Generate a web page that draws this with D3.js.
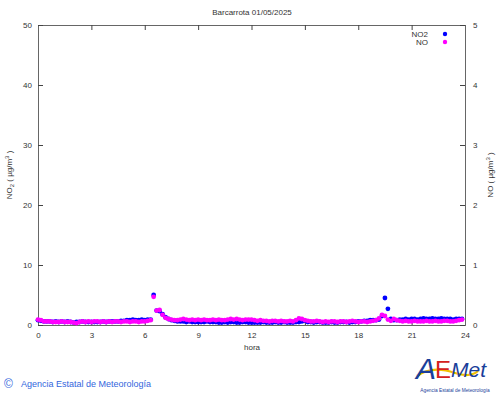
<!DOCTYPE html>
<html lang="es">
<head>
<meta charset="UTF-8">
<title>Barcarrota 01/05/2025</title>
<script src="https://d3js.org/d3.v7.min.js"></script>
<style>
    body { margin: 0; background: #fff; }
    svg { display: block; font-family: "Liberation Sans", Arial, sans-serif; }
    .axis text { font-size: 8px; fill: #333; }
</style>
</head>
<body>
<script>
// 10-minute readings, 00:00 .. 23:50
const hours = d3.range(0, 24, 1 / 6);
const no2 = [
    0.8,0.7,0.6,0.6,0.6,0.5,  0.6,0.5,0.6,0.5,0.6,0.5,  0.4,0.5,0.5,0.6,0.5,0.5,
    0.5,0.5,0.5,0.5,0.6,0.5,  0.6,0.6,0.6,0.6,0.7,0.7,  0.8,0.8,0.9,0.8,0.8,0.9,
    0.8,0.9,0.9,5.0,2.4,2.3,  1.8,1.3,1.0,0.8,0.7,0.6,  0.6,0.6,0.5,0.6,0.5,0.5,
    0.5,0.5,0.5,0.6,0.5,0.5,  0.5,0.4,0.4,0.5,0.4,0.5,  0.5,0.4,0.4,0.5,0.5,0.4,
    0.4,0.4,0.4,0.4,0.5,0.4,  0.4,0.4,0.5,0.4,0.4,0.5,  0.4,0.4,0.4,0.5,0.5,0.6,
    0.7,0.5,0.5,0.4,0.5,0.5,  0.4,0.4,0.4,0.5,0.4,0.4,  0.5,0.5,0.5,0.4,0.5,0.5,
    0.6,0.6,0.7,0.7,0.8,0.8,  0.8,0.9,1.5,4.5,2.7,1.0,  0.8,0.8,0.9,0.9,1.0,0.9,
    1.0,1.0,0.9,1.0,1.1,1.0,  1.0,1.1,1.0,1.0,1.1,1.0,  1.0,1.0,0.9,1.0,1.0,1.0
];
const no = [
    0.09,0.08,0.06,0.06,0.06,0.05,  0.05,0.05,0.06,0.05,0.05,0.05,  0.04,0.03,0.05,0.06,0.05,0.06,
    0.05,0.06,0.06,0.05,0.06,0.05,  0.06,0.05,0.06,0.06,0.05,0.06,  0.06,0.05,0.06,0.06,0.05,0.06,
    0.06,0.07,0.08,0.47,0.24,0.25,  0.17,0.12,0.10,0.09,0.08,0.08,  0.09,0.10,0.09,0.08,0.09,0.08,
    0.09,0.08,0.09,0.08,0.08,0.09,  0.08,0.09,0.08,0.08,0.09,0.10,  0.09,0.10,0.09,0.08,0.09,0.09,
    0.09,0.08,0.07,0.08,0.07,0.07,  0.06,0.07,0.07,0.06,0.07,0.06,  0.06,0.07,0.06,0.08,0.11,0.10,
    0.08,0.07,0.06,0.06,0.07,0.06,  0.05,0.06,0.05,0.06,0.06,0.05,  0.06,0.06,0.05,0.06,0.07,0.06,
    0.05,0.06,0.06,0.05,0.06,0.07,  0.08,0.11,0.17,0.15,0.09,0.07,  0.10,0.08,0.07,0.06,0.07,0.06,
    0.06,0.07,0.06,0.06,0.06,0.07,  0.06,0.06,0.07,0.06,0.06,0.07,  0.07,0.06,0.06,0.07,0.08,0.09
];
const hourTicks = [0, 3, 6, 9, 12, 15, 18, 21, 24];
const no2Ticks = [0, 10, 20, 30, 40, 50];
const noTicks = [0, 1, 2, 3, 4, 5];

const svg = d3.select("body").append("svg").attr("width", 500).attr("height", 395);

const x = d3.scaleLinear().domain([0, 24]).range([38, 465]);
const yL = d3.scaleLinear().domain([0, 50]).range([325, 25]);
const yR = d3.scaleLinear().domain([0, 5]).range([325, 25]);

// axes, ticks pointing inward like gnuplot
svg.append("g").attr("class", "axis").attr("transform", "translate(0,325)")
    .call(d3.axisBottom(x).tickValues(hourTicks).tickSize(-5).tickPadding(7));
svg.append("g").attr("class", "axis").attr("transform", "translate(0,25)")
    .call(d3.axisTop(x).tickValues(hourTicks).tickSize(-5).tickFormat(""));
svg.append("g").attr("class", "axis").attr("transform", "translate(38,0)")
    .call(d3.axisLeft(yL).tickValues(no2Ticks).tickSize(-5).tickPadding(6));
svg.append("g").attr("class", "axis").attr("transform", "translate(465,0)")
    .call(d3.axisRight(yR).tickValues(noTicks).tickSize(-5).tickPadding(8).tickFormat(d3.format("d")));

svg.selectAll(".axis path").attr("stroke", "#666");
svg.selectAll(".axis line").attr("stroke", "#444");
svg.selectAll(".axis text").attr("fill", "#333");

// data points
const g = svg.append("g");
g.selectAll(".no2").data(hours).enter().append("circle")
    .attr("cx", d => x(d)).attr("cy", (d, i) => yL(no2[i]))
    .attr("r", 2.4).attr("fill", "#0000ff");
g.selectAll(".no").data(hours).enter().append("circle")
    .attr("cx", d => x(d)).attr("cy", (d, i) => yR(no[i]))
    .attr("r", 2.4).attr("fill", "#ff00ff");

// title + labels
svg.append("text").attr("x", 252).attr("y", 15).attr("text-anchor", "middle")
    .attr("font-size", 8).attr("fill", "#333").text("Barcarrota 01/05/2025");
svg.append("text").attr("x", 252).attr("y", 350).attr("text-anchor", "middle")
    .attr("font-size", 8).attr("fill", "#333").text("hora");

const ylab = svg.append("text").attr("transform", "translate(12,175) rotate(-90)")
    .attr("text-anchor", "middle").attr("font-size", 8).attr("fill", "#333");
ylab.append("tspan").text("NO");
ylab.append("tspan").attr("font-size", 6).attr("dy", 2).text("2");
ylab.append("tspan").attr("dy", -2).text(" ( µg/m");
ylab.append("tspan").attr("font-size", 6).attr("dy", -3).text("3");
ylab.append("tspan").attr("dy", 3).text(" )");

const rlab = svg.append("text").attr("transform", "translate(493,175) rotate(-90)")
    .attr("text-anchor", "middle").attr("font-size", 8).attr("fill", "#333");
rlab.append("tspan").text("NO ( µg/m");
rlab.append("tspan").attr("font-size", 6).attr("dy", -3).text("3");
rlab.append("tspan").attr("dy", 3).text(" )");

// legend
const legend = [["NO2", "#0000ff"], ["NO", "#ff00ff"]];
legend.forEach(([name, col], i) => {
    svg.append("text").attr("x", 428).attr("y", 37 + i * 8).attr("text-anchor", "end")
        .attr("font-size", 8).attr("fill", "#333").text(name);
    svg.append("circle").attr("cx", 445).attr("cy", 34 + i * 8).attr("r", 2.2).attr("fill", col);
});

// footer
svg.append("text").attr("x", 4).attr("y", 388).attr("font-size", 12).attr("fill", "#3366dd").text("©");
svg.append("text").attr("x", 21).attr("y", 387).attr("font-size", 9).attr("fill", "#3366dd")
    .text("Agencia Estatal de Meteorología");

// AEMet logo (approximation)
const logo = svg.append("g");
logo.append("path").attr("d", "M417,376 Q432,365 455,373 Q470,378 478,371")
    .attr("fill", "none").attr("stroke", "#f2c000").attr("stroke-width", 2.2);
logo.append("text").attr("x", 416).attr("y", 379).attr("font-size", 30)
    .attr("font-style", "italic").attr("fill", "#1a3e9a").text("A");
logo.append("text").attr("x", 435).attr("y", 378).attr("font-size", 24)
    .attr("fill", "#d42020").text("E");
logo.append("text").attr("x", 451).attr("y", 377).attr("font-size", 21)
    .attr("font-style", "italic").attr("fill", "#1a3e9a").text("Met");
logo.append("text").attr("x", 455).attr("y", 392).attr("text-anchor", "middle")
    .attr("font-size", 4.8).attr("fill", "#1a3e9a").text("Agencia Estatal de Meteorología");
</script>
</body>
</html>
